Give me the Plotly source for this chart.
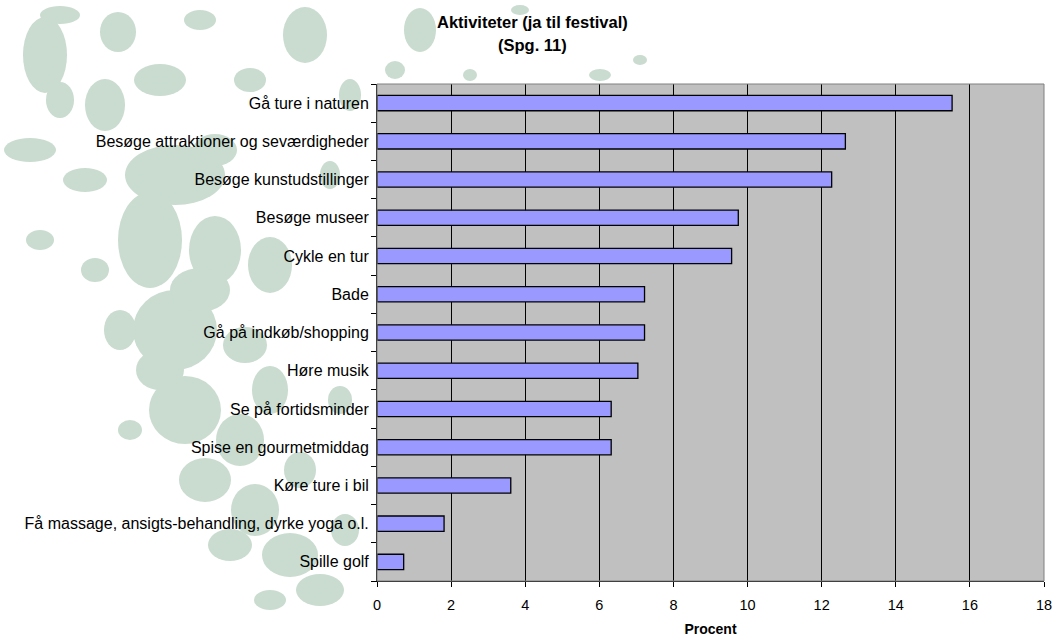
import plotly.graph_objects as go

# Activities, listed top to bottom as shown on the chart
activities = [
    "Gå ture i naturen",
    "Besøge attraktioner og seværdigheder",
    "Besøge kunstudstillinger",
    "Besøge museer",
    "Cykle en tur",
    "Bade",
    "Gå på indkøb/shopping",
    "Høre musik",
    "Se på fortidsminder",
    "Spise en gourmetmiddag",
    "Køre ture i bil",
    "Få massage, ansigts-behandling, dyrke yoga o.l.",
    "Spille golf",
]
percent = [15.52, 12.64, 12.27, 9.75, 9.57, 7.22, 7.22, 7.04, 6.32, 6.32, 3.61, 1.81, 0.72]
x_ticks = list(range(0, 19, 2))

FONT = "Liberation Sans, Arial, sans-serif"
W, H = 1056, 639
ML, MR, MT, MB = 377, 12, 84, 58
PW, PH = W - ML - MR, H - MT - MB

fig = go.Figure(
    go.Bar(
        x=percent,
        y=activities,
        orientation="h",
        marker=dict(color="#9999FF", line=dict(color="#000000", width=1.3)),
        width=0.4,
    )
)

# pale green map-like backdrop (centre x, centre y, radius x, radius y in pixels)
patches = [
    (45, 55, 22, 38), (118, 32, 18, 20), (160, 80, 26, 16), (105, 105, 20, 26),
    (30, 150, 26, 12), (85, 180, 22, 12), (305, 35, 22, 28), (250, 80, 16, 12),
    (215, 150, 22, 16), (175, 175, 50, 30), (150, 240, 32, 48), (215, 250, 26, 34),
    (270, 265, 22, 28), (60, 15, 20, 9), (200, 20, 16, 10), (350, 95, 11, 16),
    (330, 175, 10, 14), (175, 330, 42, 40), (120, 330, 16, 20), (245, 345, 22, 18),
    (185, 410, 36, 34), (240, 440, 24, 26), (205, 480, 26, 22), (255, 510, 24, 26),
    (230, 545, 22, 16), (290, 555, 28, 22), (320, 590, 24, 16), (270, 600, 16, 10),
    (345, 530, 14, 16), (300, 470, 16, 18), (420, 30, 16, 22), (395, 70, 10, 9),
    (470, 75, 7, 6), (600, 75, 11, 6), (640, 60, 7, 5), (520, 10, 9, 5),
    (40, 240, 14, 10), (95, 270, 14, 12), (340, 400, 12, 14), (130, 430, 12, 10),
    (200, 290, 30, 22), (160, 370, 24, 20), (270, 390, 18, 24), (60, 100, 14, 18),
]
shapes = []
for cx, cy, rx, ry in patches:
    shapes.append(dict(
        type="circle", xref="paper", yref="paper", layer="below",
        x0=(cx - rx - ML) / PW, x1=(cx + rx - ML) / PW,
        y0=(H - MB - (cy + ry)) / PH, y1=(H - MB - (cy - ry)) / PH,
        fillcolor="#C9DCCF", line=dict(width=0),
    ))

# plot-area frame
shapes.append(dict(type="rect", xref="paper", yref="paper", x0=0, x1=1, y0=0, y1=1,
                   line=dict(color="#808080", width=1), layer="above"))

fig.update_layout(
    width=W,
    height=H,
    margin=dict(l=ML, r=MR, t=MT, b=MB, autoexpand=False),
    paper_bgcolor="#FFFFFF",
    plot_bgcolor="#C0C0C0",
    showlegend=False,
    shapes=shapes,
    font=dict(family=FONT, size=15, color="#000000"),
    annotations=[
        dict(
            text="<b>Aktiviteter (ja til festival)</b>",
            xref="paper", yref="paper",
            x=(532 - ML) / PW, y=(H - MB - 22) / PH,
            xanchor="center", yanchor="middle", showarrow=False,
            font=dict(family=FONT, size=16.5, color="#000000"),
        ),
        dict(
            text="<b>(Spg. 11)</b>",
            xref="paper", yref="paper",
            x=(532 - ML) / PW, y=(H - MB - 45) / PH,
            xanchor="center", yanchor="middle", showarrow=False,
            font=dict(family=FONT, size=16.5, color="#000000"),
        ),
    ],
    xaxis=dict(
        range=[0, 18],
        tickvals=x_ticks,
        ticks="outside", ticklen=5, tickcolor="#000000",
        showgrid=True, gridcolor="#000000", gridwidth=1,
        showline=True, linecolor="#000000", linewidth=1,
        zeroline=False,
        automargin=False,
        tickfont=dict(family=FONT, size=14.5),
        ticklabelstandoff=6,
        title=dict(text="<b>Procent</b>", font=dict(family=FONT, size=14), standoff=11),
    ),
    yaxis=dict(
        type="category",
        categoryorder="array",
        categoryarray=activities[::-1],
        tickson="boundaries",
        ticks="outside", ticklen=5, tickcolor="#000000",
        showgrid=False,
        showline=True, linecolor="#000000", linewidth=1,
        automargin=False,
        tickfont=dict(family=FONT, size=16),
        ticklabelstandoff=4,
    ),
)

fig.write_html("out.html")
